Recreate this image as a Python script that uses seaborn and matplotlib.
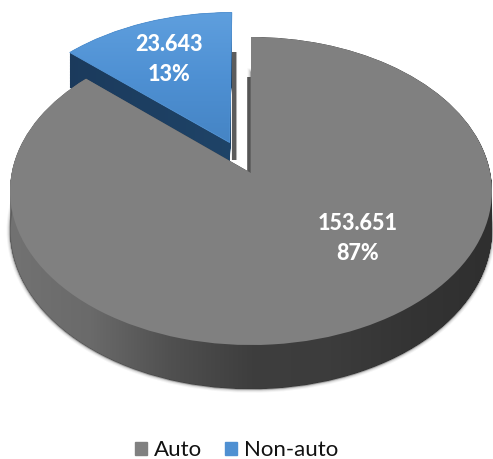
import numpy as np
import matplotlib
matplotlib.use("Agg")
import matplotlib.pyplot as plt
import seaborn as sns
from matplotlib.patches import PathPatch
from matplotlib.path import Path
from matplotlib.transforms import Transform
from matplotlib.colors import LinearSegmentedColormap

# Vehicle counts by category
categories = ["Auto", "Non-auto"]
values = [153651, 23643]
explode = [0.0, 0.225]
palette = ["#808080", "#4f90d2"]

sns.set_theme(style="white")
plt.rcParams["font.family"] = ["Lato", "DejaVu Sans"]

W, H = 493, 459
CX, CY = 251.0, H - 173.0   # where the pie centre lands on the canvas
SX, SY = 239.3, 151.9       # horizontal and vertical radius of the tilted disc
TILT = 0.117                # strength of the foreshortening
DEPTH = 39.0                # thickness of the disc


class TiltedPlane(Transform):
    """Projects the flat pie onto a tilted disc, lowered by `drop` of its thickness."""
    input_dims = output_dims = 2
    has_inverse = False
    is_separable = False

    def __init__(self, drop=0.0):
        super().__init__()
        self.drop = drop

    def transform_non_affine(self, xy):
        xy = np.asarray(xy, dtype=float)
        w = 1 + TILT * xy[:, 1]
        return np.column_stack([CX + SX * xy[:, 0] / w,
                                CY + SY * xy[:, 1] / w - self.drop * DEPTH / w])


fig = plt.figure(figsize=(W / 100, H / 100), dpi=100)
ax = fig.add_axes([0, 0, 1, 1])

share_other = values[1] / sum(values)
wedges, _ = ax.pie(values, explode=explode, colors=palette, labels=None,
                   startangle=90 + 360 * share_other, counterclock=True,
                   wedgeprops={"linewidth": 0})
auto, other = wedges
top = TiltedPlane() + ax.transData
for w in wedges:
    w.set_transform(top)
    w.set_clip_on(False)
other.set_zorder(5)
auto.set_zorder(10)


def extrusion(wedge, levels=60):
    """Compound outline swept by a wedge through the thickness of the disc."""
    return Path.make_compound_path(*[TiltedPlane(t).transform_path(wedge.get_path())
                                     for t in np.linspace(0, 1, levels)])


def gradient(stops, vertical=False):
    cmap = LinearSegmentedColormap.from_list("g", stops)
    ramp = np.linspace(0, 1, 256)
    return (ramp[:, None] if vertical else ramp[None, :]), cmap


# Rim of the grey slice, lighter towards the left
ramp, cmap = gradient(["#727272", "#6a6a6a", "#505050", "#3e3e3e", "#3c3c3c", "#343434", "#2f2f2f"])
side = ax.imshow(ramp, cmap=cmap, extent=[10, 492, 0, H], aspect="auto", zorder=8, origin="lower")
side.set_clip_path(extrusion(auto), ax.transData)

# Soft shadow falling round the base of the disc
low = TiltedPlane(1.0) + ax.transData
for lw, a in [(5, 0.05), (3.5, 0.09), (2, 0.16), (1, 0.3)]:
    ax.add_patch(PathPatch(auto.get_path(), transform=low, fill=False, ec="#333333", lw=lw, alpha=a,
                           zorder=7.5 if lw > 1 else 8.5, clip_on=False))

# Rim of the blue slice
ramp, cmap = gradient(["#1b3a5c", "#1f4468"])
side_blue = ax.imshow(ramp, cmap=cmap, extent=[60, 240, 0, H], aspect="auto", zorder=4, origin="lower")
side_blue.set_clip_path(extrusion(other), ax.transData)

# Blue face, lighter at the far edge
ramp, cmap = gradient(["#4584c4", "#4e90d3", "#5f9fde"], vertical=True)
face = ax.imshow(ramp, cmap=cmap, extent=[60, 240, H - 145, H - 12], aspect="auto", zorder=6, origin="lower")
face.set_clip_path(other.get_path(), top)
ax.add_patch(PathPatch(other.get_path(), transform=top, fill=False,
                       ec="#5393d3", lw=0.6, zorder=6.5, clip_on=False))

# Inner walls visible in the gap between the slices
ax.plot([233.8] * 2, [H - 160, H - 52], color="#5c5c5c", lw=3.0, zorder=3, solid_capstyle="butt")
ax.plot([236.0] * 2, [H - 160, H - 52], color="#bbbbbb", lw=1.5, zorder=2.9, solid_capstyle="butt")
ax.plot([248.6] * 2, [H - 173, H - 77], color="#555555", lw=2.6, zorder=9, solid_capstyle="butt")

# Value and share labels
total = sum(values)
positions = [(357.5, H - 238.5), (169.5, H - 59.5)]
for v, (x, y) in zip(values, positions):
    ax.text(x, y, f"{v / 1000:.3f}\n{v / total:.0%}", color="white", fontweight="black",
            fontsize=15.5, ha="center", va="center", linespacing=1.5, zorder=20)

leg = ax.legend(
    [plt.Rectangle((0, 0), 1, 1, color=c) for c in palette], categories,
    loc="lower center", bbox_to_anchor=(236.5 / W, -17 / H), ncol=2, frameon=False,
    fontsize=16, handlelength=0.55, handleheight=0.55, handletextpad=0.32,
    columnspacing=1.0, borderpad=0.2, labelcolor="#111111")

ax.set_xlim(0, W)
ax.set_ylim(0, H)
ax.set_aspect("auto")
ax.axis("off")
fig.savefig("out.png", dpi=100)
